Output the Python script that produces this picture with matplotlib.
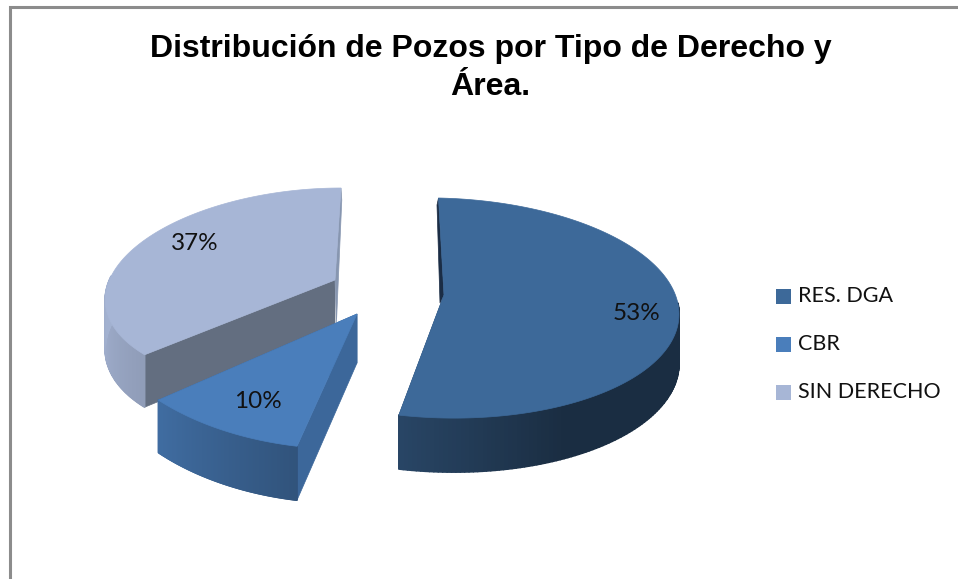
import numpy as np
import matplotlib
matplotlib.use("Agg")
import matplotlib.pyplot as plt
from matplotlib.collections import PolyCollection
from matplotlib.patches import Rectangle, Polygon

categories = ["RES. DGA", "CBR", "SIN DERECHO"]
shares = [53, 10, 37]
labels = ["53%", "10%", "37%"]
title_lines = ["Distribución de Pozos por Tipo de Derecho y", "Área."]

top_colors = ["#3D6999", "#4A7EBB", "#A7B6D6"]
start_face = ["#1B2D45", "#3C679A", "#636E80"]
end_face = ["#27466B", "#3C679A", "#8796B0"]
label_pos = [(637, 314), (258, 402), (195, 243)]
legend_y = [296, 344, 392]

# drawing geometry of each exploded slice: apex, rim centre, rim radii, rim shear, rim tilt
apex = [(444, 295), (357, 314), (335, 280)]
rim_c = [(441, 308), (345, 294), (314, 287)]
rim_r = [(238, 110), (256, 155), (207, 99)]
rim_q = [2.5, 0, -27]
rim_t = [5, 0, 0]
H0, H1 = 49.0, 5.0
# thin back faces: (rim corner offset, apex offset), by face index 0 = start, -1 = end
back_face = [{0: ((-1.5, 7), (-4, 8))}, {}, {-1: ((0.8, 12), (1.5, 42))}]

BR_T = [0, 100, 150, 190.8, 226.8, 270, 360]
BR_V = [.43, .43, .43, .66, .86, .97, .97]


def shade(hexcol, f):
    return tuple(c * f for c in matplotlib.colors.to_rgb(hexcol))


fig = plt.figure(figsize=(9.58, 5.79), dpi=100, facecolor="white")
ax = fig.add_axes([0, 0, 1, 1])
ax.set_xlim(0, 958)
ax.set_ylim(579, 0)
ax.axis("off")

ax.plot([10, 10, 958], [579, 7, 7], color="#8C8C8C", lw=2.2, solid_joinstyle="miter")

edges = np.concatenate([[0], np.cumsum(shares)]) / sum(shares) * 360
z = 2
for i in [2, 0, 1]:
    a0, a1 = edges[i], edges[i + 1]
    th = np.linspace(a0, a1, 181)
    t = np.radians(th)
    X, Y = np.sin(t), -np.cos(t)
    x = rim_c[i][0] + rim_r[i][0] * X + rim_q[i] * Y
    y = rim_c[i][1] + rim_r[i][1] * Y + rim_t[i] * X
    h = H0 + H1 * Y
    px, py = apex[i]
    for col, k in ((start_face[i], 0), (end_face[i], -1)):
        if k in back_face[i]:
            (dx1, dy1), (dx2, dy2) = back_face[i][k]
        else:
            (dx1, dy1), (dx2, dy2) = (0, h[k]), (0, H0)
        ax.add_patch(Polygon([(px, py), (x[k], y[k]), (x[k] + dx1, y[k] + dy1), (px + dx2, py + dy2)],
                             closed=True, fc=col, ec=col, lw=0.5, zorder=z))
    quads = [[(x[k], y[k]), (x[k + 1], y[k + 1]), (x[k + 1], y[k + 1] + h[k + 1]), (x[k], y[k] + h[k])]
             for k in range(len(th) - 1) if Y[k] > -0.1]
    cols = [shade(top_colors[i], np.interp((th[k] + th[k + 1]) / 2, BR_T, BR_V))
            for k in range(len(th) - 1) if Y[k] > -0.1]
    ax.add_collection(PolyCollection(quads, facecolors=cols, edgecolors=cols, linewidths=1.2, zorder=z))
    ax.add_patch(Polygon(np.column_stack([np.r_[px, x], np.r_[py, y]]), closed=True,
                         fc=top_colors[i], ec=top_colors[i], lw=0.5, zorder=z + 0.5))
    ax.text(*label_pos[i], labels[i], ha="center", va="center", family="Lato", fontsize=17.5,
            color="#111111", zorder=20)
    z += 1

for c, y, col in zip(categories, legend_y, top_colors):
    ax.add_patch(Rectangle((776, y - 7), 15, 15, fc=col, ec="none", zorder=5))
    ax.text(798, y, c, ha="left", va="center", family="Lato", fontsize=15.5, color="#111111")

ax.text(491, 57, title_lines[0], ha="center", va="baseline", family="Liberation Sans",
        fontsize=23, color="black", weight="bold")
ax.text(490, 95, title_lines[1], ha="center", va="baseline", family="Liberation Sans",
        fontsize=23, color="black", weight="bold")

fig.savefig("out.png", dpi=100, facecolor="white")
